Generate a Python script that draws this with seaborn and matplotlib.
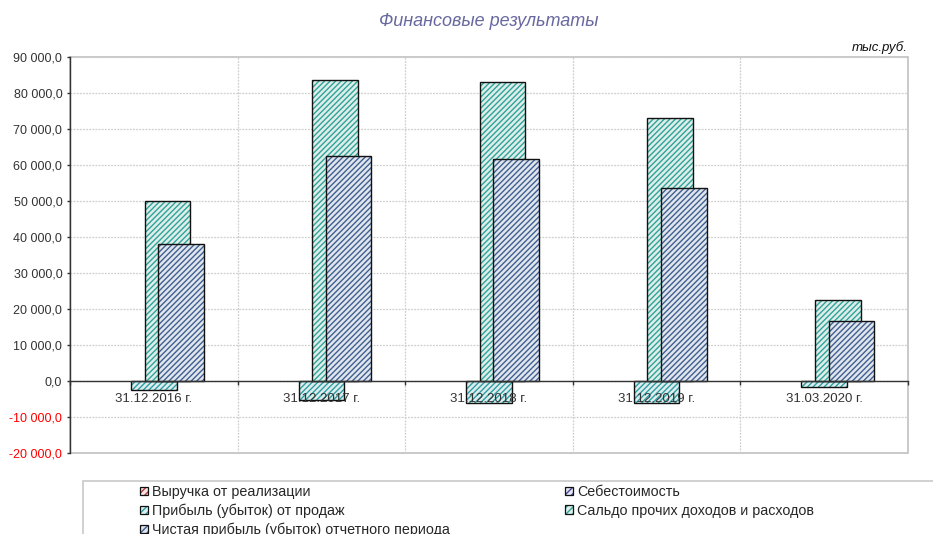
import numpy as np
import pandas as pd
import matplotlib
matplotlib.use("Agg")
import matplotlib.pyplot as plt
import matplotlib.patches as mpatches
import matplotlib.patheffects as pe
import seaborn as sns

# Data (тыс.руб.)
dates = ['31.12.2016 г.', '31.12.2017 г.', '31.12.2018 г.', '31.12.2019 г.', '31.03.2020 г.']
series = ['Выручка от реализации', 'Себестоимость', 'Прибыль (убыток) от продаж',
          'Сальдо прочих доходов и расходов', 'Чистая прибыль (убыток) отчетного периода']
revenue = [0, 0, 0, 0, 0]
cost = [0, 0, 0, 0, 0]
sales_profit = [-2400, -5300, -6200, -6200, -1800]
other_balance = [50000, 83700, 83100, 73100, 22600]
net_profit = [38000, 62600, 61600, 53500, 16700]

hatch_colors = ['#b03a3a', '#4a4a98', '#2c9ea4', '#2ea498', '#3f5f92']
face_colors = ['#f8e4e4', '#e6e6f4', '#dcf0f0', '#dcf0ec', '#dfe5ef']

df = pd.DataFrame({
    'date': dates * 5,
    'series': np.repeat(series, 5),
    'value': revenue + cost + sales_profit + other_balance + net_profit,
})

sns.set_theme(style='white')
plt.rcParams['font.family'] = ['Liberation Sans', 'DejaVu Sans']
plt.rcParams['hatch.linewidth'] = 1.0

fig = plt.figure(figsize=(9.33, 5.34), dpi=100)
ax = fig.add_axes([70 / 933, 1 - 453 / 534, (908 - 70) / 933, (453 - 57) / 534])

sns.barplot(data=df, x='date', y='value', hue='series', hue_order=series, order=dates,
            palette=face_colors, width=0.406, dodge=True, errorbar=None, legend=False, ax=ax)

# Excel-style overlapping bars: keep the dodge step, widen each bar
bar_w = 0.272
outline = [pe.Stroke(linewidth=1.0, foreground='#111111')]
for cont, hc in zip(ax.containers, hatch_colors):
    for p in cont:
        cx = p.get_x() + p.get_width() / 2
        p.set_width(bar_w)
        p.set_x(cx - bar_w / 2)
        p.set_edgecolor(hc)
        p.set_hatch('//////')
        p.set_linewidth(0)
        if p.get_height() != 0:
            p.set_path_effects(outline)

ax.set_xlim(-0.5, 4.5)
ax.set_ylim(-20000, 90000)
yt = np.arange(-20000, 90001, 10000)
ax.set_yticks(yt)
ax.set_yticklabels([f"{v:,.1f}".replace(',', ' ').replace('.', ',') for v in yt])
for lab, v in zip(ax.get_yticklabels(), yt):
    lab.set_color('#ff0000' if v < 0 else '#333333')
ax.tick_params(axis='y', direction='out', length=2.5, width=1, color='#333333',
               pad=3, labelsize=9, left=True)

ax.set_xticks(range(len(dates)))
ax.set_xticklabels(dates)
ax.set_xticks(np.arange(-0.5, 5, 1), minor=True)
ax.tick_params(axis='x', which='major', length=0, pad=8.5, labelsize=9.5, labelcolor='#333333')
ax.tick_params(axis='x', which='minor', direction='out', length=3, width=1,
               color='#333333', bottom=True)

ax.grid(axis='y', which='major', color='#cfcfcf', linestyle=(0, (1.5, 1)), linewidth=0.9)
ax.grid(axis='x', which='minor', color='#cfcfcf', linestyle=(0, (1.5, 1)), linewidth=0.9)
ax.set_axisbelow(True)
# category labels sit on top of the bars, as in Excel
ax.xaxis.set_zorder(2.5)

for s in ['top', 'right']:
    ax.spines[s].set_visible(False)
ax.spines['left'].set_color('#333333')
ax.spines['left'].set_linewidth(1)
ax.spines['left'].set_zorder(2.6)
ax.spines['bottom'].set_position(('data', 0))
ax.spines['bottom'].set_color('#333333')
ax.spines['bottom'].set_linewidth(1)
ax.spines['bottom'].set_zorder(2.6)
ax.patch.set_edgecolor('#c0c0c0')
ax.patch.set_linewidth(1.2)
ax.set_xlabel('')
ax.set_ylabel('')

fig.text(0.5236, 1 - 21 / 534, 'Финансовые результаты', ha='center', va='center',
         fontsize=13, style='italic', color='#6868a0')
fig.text(908 / 933, 1 - 48 / 534, 'тыс.руб.', ha='right', va='center',
         fontsize=9.5, style='italic', color='#111111')

# legend box (cut by the lower edge as in the original)
fig.patches.append(mpatches.Rectangle((83 / 933, -0.05), 1.0, 0.05 + 1 - 481 / 534,
                                      transform=fig.transFigure, fill=False,
                                      edgecolor='#c8c8c8', linewidth=1.2))
handles = []
for name, hc, fc in zip(series, hatch_colors, face_colors):
    handles.append(mpatches.Patch(facecolor=fc, edgecolor=hc, hatch='/////', linewidth=0,
                                  path_effects=[pe.Stroke(linewidth=0.9, foreground='#111111')],
                                  label=name))
order = [0, 2, 4, 1, 3]
fig.legend([handles[i] for i in order], [series[i] for i in order], ncol=2,
           loc='upper left', bbox_to_anchor=(140 / 933, 1 - 485 / 534),
           frameon=False, fontsize=10.3, handlelength=0.55, handleheight=0.55,
           handletextpad=0.3, labelspacing=0.32, columnspacing=8.05, borderpad=0,
           borderaxespad=0)

fig.savefig('out.png', dpi=100)
